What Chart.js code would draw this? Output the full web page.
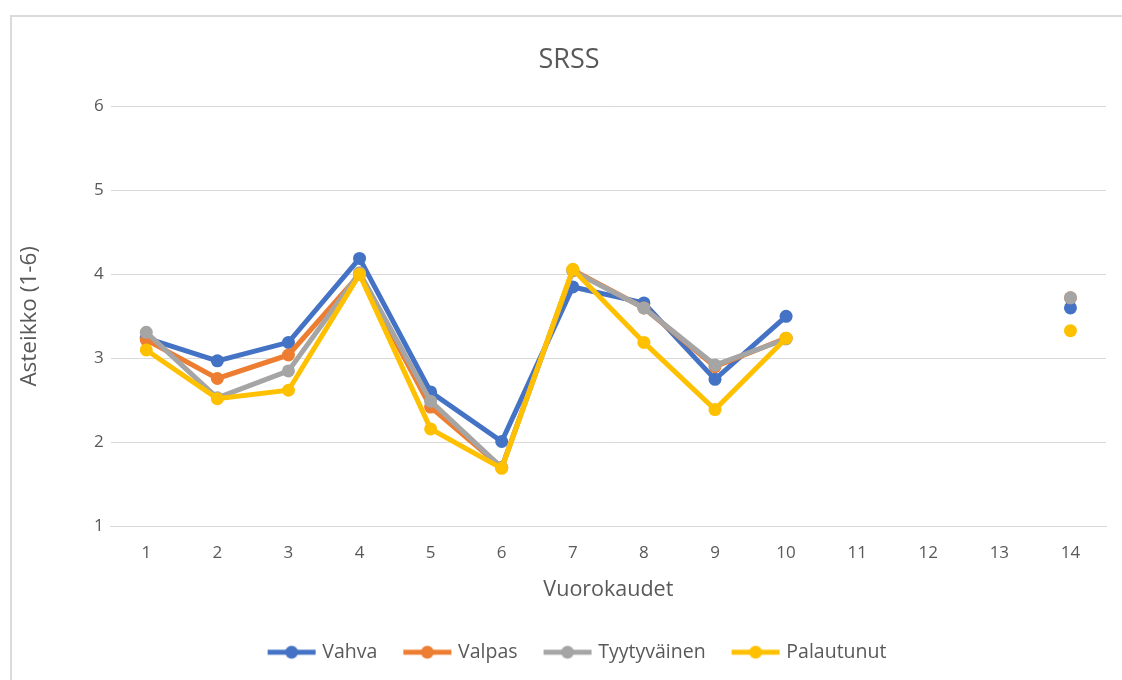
<!DOCTYPE html>
<html>
<head>
<meta charset="utf-8">
<script src="https://cdn.jsdelivr.net/npm/chart.js@4.4.1/dist/chart.umd.min.js"></script>
<style>
  html, body { margin: 0; padding: 0; background: #ffffff; }
  #wrap { position: relative; width: 1122px; height: 680px; overflow: hidden; }
  #frame { position: absolute; left: 10px; top: 15px; width: 1130px; height: 680px; border: 2px solid #dadada; box-sizing: border-box; pointer-events: none; }
  canvas { position: absolute; left: 0; top: 0; }
</style>
</head>
<body>
<div id="wrap">
  <canvas id="c" width="1122" height="680"></canvas>
  <div id="frame"></div>
</div>
<script>
const categories = ['1','2','3','4','5','6','7','8','9','10','11','12','13','14'];
const vahva = [3.24, 2.97, 3.19, 4.19, 2.60, 2.01, 3.85, 3.66, 2.75, 3.50, null, null, null, 3.60];
const valpas = [3.22, 2.76, 3.04, 4.00, 2.42, 1.70, 4.05, 3.60, 2.90, 3.24, null, null, null, 3.72];
const tyytyvainen = [3.31, 2.53, 2.85, 4.02, 2.49, 1.70, 4.04, 3.60, 2.92, 3.23, null, null, null, 3.72];
const palautunut = [3.10, 2.52, 2.62, 4.00, 2.16, 1.69, 4.06, 3.19, 2.39, 3.24, null, null, null, 3.33];
const seriesNames = ['Vahva', 'Valpas', 'Tyytyväinen', 'Palautunut'];
const colors = ['#4472c4', '#ed7d31', '#a5a5a5', '#ffc000'];
const yTicks = [1, 2, 3, 4, 5, 6];

const FONT = "'Open Sans', 'Liberation Sans', sans-serif";
const TXT = '#595959';

// legend icon: line with a dot, drawn on a small canvas
function legendIcon(color) {
  const c = document.createElement('canvas');
  c.width = 93; c.height = 16;
  const g = c.getContext('2d');
  g.strokeStyle = color; g.lineWidth = 5; g.lineCap = 'butt';
  g.beginPath(); g.moveTo(32, 8); g.lineTo(80, 8); g.stroke();
  g.fillStyle = color;
  g.beginPath(); g.arc(56, 8, 6.5, 0, Math.PI * 2); g.fill();
  return c;
}

const allData = [vahva, valpas, tyytyvainen, palautunut];
const datasets = seriesNames.map((name, i) => ({
  label: name,
  data: allData[i],
  borderColor: colors[i],
  backgroundColor: colors[i],
  borderWidth: 5,
  pointRadius: 6.5,
  pointHoverRadius: 6.5,
  pointBorderWidth: 0,
  tension: 0,
  spanGaps: false,
  order: seriesNames.length - i
}));

new Chart(document.getElementById('c'), {
  type: 'line',
  data: { labels: categories, datasets: datasets },
  options: {
    responsive: false,
    animation: false,
    layout: { padding: { left: 32, right: 16, top: 36, bottom: 8 } },
    plugins: {
      title: {
        display: true, text: 'SRSS', color: TXT,
        font: { family: FONT, size: 27, weight: 'normal' },
        padding: { top: 8, bottom: 30 }
      },
      legend: {
        position: 'bottom',
        labels: {
          color: TXT,
          font: { family: FONT, size: 19.5 },
          usePointStyle: true,
          pointStyleWidth: 61,
          padding: 10,
          generateLabels: (chart) => chart.data.datasets.map((ds, i) => ({
            text: ds.label,
            fillStyle: ds.borderColor,
            strokeStyle: ds.borderColor,
            fontColor: TXT,
            lineWidth: 0,
            pointStyle: legendIcon(ds.borderColor),
            datasetIndex: i,
            hidden: false
          }))
        }
      },
      tooltip: { enabled: false }
    },
    scales: {
      x: {
        offset: true,
        grid: { display: false, drawTicks: false },
        border: { display: true, color: '#d9d9d9', width: 1 },
        ticks: { color: TXT, font: { family: FONT, size: 17 }, padding: 17 },
        title: { display: true, text: 'Vuorokaudet', color: TXT, font: { family: FONT, size: 21.5 }, padding: { top: -4, bottom: 30 } }
      },
      y: {
        min: 1, max: 6,
        afterBuildTicks: (axis) => { axis.ticks = yTicks.map(v => ({ value: v })); },
        grid: { color: '#d9d9d9', lineWidth: 1, drawTicks: false },
        border: { display: false },
        ticks: { color: TXT, font: { family: FONT, size: 17 }, padding: 7 },
        title: { display: true, text: 'Asteikko (1-6)', color: TXT, font: { family: FONT, size: 22.5 }, padding: { top: -16, bottom: 44 } }
      }
    }
  }
});
</script>
</body>
</html>
